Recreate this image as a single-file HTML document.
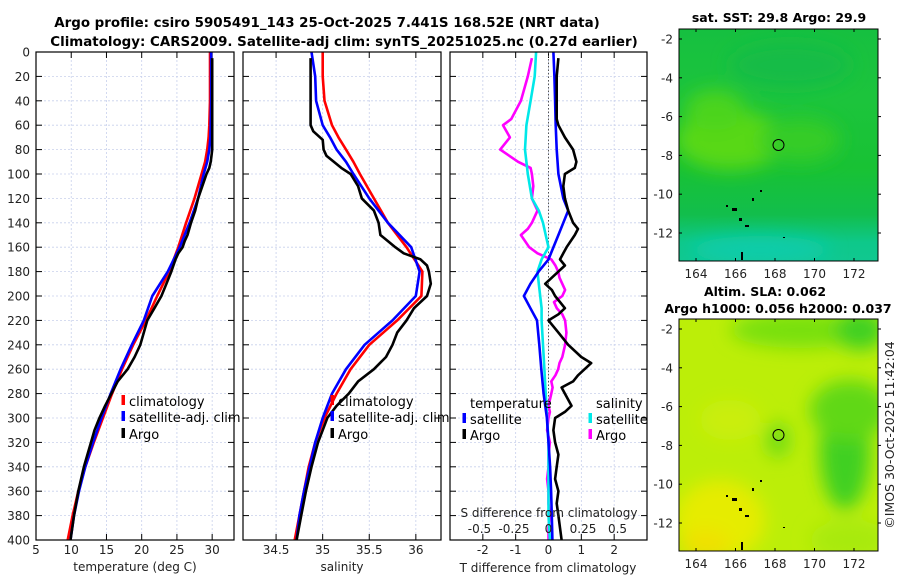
<!DOCTYPE html>
<html><head><meta charset="utf-8">
<style>
html,body{margin:0;padding:0;background:#fff;}
svg{display:block;font-family:"DejaVu Sans","Liberation Sans",sans-serif;}
.tk{font-size:12px;fill:#222;}
.ttl{font-size:12.5px;font-weight:bold;fill:#000;}
.mttl{font-size:13.4px;font-weight:bold;fill:#000;}
.lg{font-size:13px;fill:#000;}
</style></head>
<body>
<svg id="fig" width="900" height="580" viewBox="0 0 900 580" xmlns="http://www.w3.org/2000/svg">
<defs>
<filter id="blur8" x="-50%" y="-50%" width="200%" height="200%"><feGaussianBlur stdDeviation="9"/></filter>
<linearGradient id="sstg" x1="0" y1="0" x2="0" y2="1">
<stop offset="0" stop-color="#16c040"/><stop offset="0.3" stop-color="#1cc43c"/><stop offset="0.6" stop-color="#18c234"/><stop offset="0.8" stop-color="#12be4c"/><stop offset="0.92" stop-color="#0ec88a"/><stop offset="1" stop-color="#10c890"/>
</linearGradient>
<clipPath id="cm1"><rect x="679" y="29" width="199" height="232"/></clipPath>
<clipPath id="cm2"><rect x="679" y="319" width="199" height="232"/></clipPath>
</defs>
<text class="mttl" x="327" y="27" text-anchor="middle">Argo profile: csiro 5905491_143 25-Oct-2025 7.441S 168.52E (NRT data)</text>
<text class="mttl" x="344" y="46" text-anchor="middle">Climatology: CARS2009. Satellite-adj clim: synTS_20251025.nc (0.27d earlier)</text>
<g id="plots"></g>

<!-- SST map -->
<g>
<text class="ttl" x="779" y="22" text-anchor="middle">sat. SST: 29.8 Argo: 29.9</text>
<g clip-path="url(#cm1)">
<rect x="679" y="29" width="199" height="232" fill="url(#sstg)"/>
<g filter="url(#blur8)">
<ellipse cx="730" cy="140" rx="55" ry="30" fill="#58d818"/>
<ellipse cx="715" cy="110" rx="30" ry="20" fill="#4cd41c"/>
<ellipse cx="800" cy="140" rx="40" ry="22" fill="#34cc26"/>
<ellipse cx="790" cy="65" rx="60" ry="22" fill="#14bc46"/>
<ellipse cx="760" cy="250" rx="70" ry="14" fill="#0cccaa"/>
</g>
</g>
<rect x="679" y="29" width="199" height="232" fill="none" stroke="#000" stroke-width="1"/>
<circle cx="778.5" cy="145" r="5.5" fill="none" stroke="#000" stroke-width="1"/>
<g fill="#000"><rect x="726" y="205" width="2" height="2"/><rect x="732" y="208" width="5" height="3"/><rect x="739" y="218" width="3" height="3"/><rect x="745" y="225" width="4" height="2"/><rect x="752" y="198" width="2" height="3"/><rect x="760" y="190" width="2" height="2"/><rect x="783" y="237" width="2" height="1"/><rect x="741" y="252" width="2" height="8"/></g>
<g id="map1ticks"></g>
</g>

<!-- SLA map -->
<g>
<text class="ttl" x="765" y="296" text-anchor="middle">Altim. SLA: 0.062</text>
<text class="ttl" x="778" y="313" text-anchor="middle">Argo h1000: 0.056 h2000: 0.037</text>
<g clip-path="url(#cm2)">
<rect x="679" y="319" width="199" height="232" fill="#bcee08"/>
<g filter="url(#blur8)">
<ellipse cx="800" cy="330" rx="70" ry="18" fill="#78e010"/>
<ellipse cx="860" cy="330" rx="25" ry="20" fill="#40d020"/>
<ellipse cx="845" cy="450" rx="25" ry="60" fill="#40d020"/>
<ellipse cx="850" cy="410" rx="40" ry="30" fill="#60d818"/>
<ellipse cx="778" cy="440" rx="12" ry="18" fill="#70dc14"/>
<ellipse cx="730" cy="420" rx="30" ry="20" fill="#caee10"/>
<ellipse cx="720" cy="520" rx="45" ry="40" fill="#e6ec00"/>
<ellipse cx="705" cy="545" rx="25" ry="15" fill="#f0e000"/>
<ellipse cx="850" cy="540" rx="40" ry="20" fill="#a8ea08"/>
</g>
</g>
<rect x="679" y="319" width="199" height="232" fill="none" stroke="#000" stroke-width="1"/>
<circle cx="778.5" cy="435" r="5.5" fill="none" stroke="#000" stroke-width="1"/>
<g fill="#000"><rect x="726" y="495" width="2" height="2"/><rect x="732" y="498" width="5" height="3"/><rect x="739" y="508" width="3" height="3"/><rect x="745" y="515" width="4" height="2"/><rect x="752" y="488" width="2" height="3"/><rect x="760" y="480" width="2" height="2"/><rect x="783" y="527" width="2" height="1"/><rect x="741" y="542" width="2" height="8"/></g>
<g id="map2ticks"></g>
</g>
<text class="tk" transform="translate(894,435) rotate(-90)" text-anchor="middle" style="font-size:12.5px">©IMOS 30-Oct-2025 11:42:04</text>
</svg>

<script>
// ---------- data ----------
const yTicks = [0,20,40,60,80,100,120,140,160,180,200,220,240,260,280,300,320,340,360,380,400];
const tTicks = [5,10,15,20,25,30];
const sTicks = [34.5,35,35.5,36];
const dTicks = [-2,-1,0,1,2];
const dsTicks = [-0.5,-0.25,0,0.25,0.5];
const dsTickLabels = ["-0.5","-0.25","0","0.25","0.5"];

const climDepth = [0,20,40,60,70,80,90,100,120,140,160,180,200,220,240,260,280,300,320,340,360,380,400];
const climT = [29.7,29.7,29.7,29.6,29.5,29.3,29.0,28.5,27.5,26.3,25.2,23.9,22.2,20.6,18.8,17.2,15.8,14.5,13.2,12.0,11.0,10.2,9.5];
const satT  = [29.85,29.85,29.85,29.8,29.75,29.6,29.3,28.8,28.0,26.8,25.4,23.7,21.5,20.3,18.6,17.0,15.6,14.3,13.1,12.0,11.1,10.4,9.9];
const climS = [35.0,35.0,35.02,35.1,35.17,35.25,35.33,35.4,35.55,35.7,35.9,36.07,36.06,35.8,35.5,35.3,35.15,35.02,34.92,34.85,34.8,34.75,34.7];
const satS  = [34.88,34.92,34.93,35.0,35.08,35.15,35.25,35.33,35.5,35.7,35.95,36.04,36.0,35.75,35.45,35.25,35.1,35.0,34.92,34.86,34.8,34.75,34.72];

const argoDepth = [5,20,40,60,65,72,80,85,90,95,100,110,120,130,140,150,155,160,165,170,175,180,190,200,210,220,230,240,250,260,270,280,290,300,310,320,340,360,380,400];
const argoT = [30.0,30.0,30.0,30.0,30.0,30.0,30.0,29.9,29.8,29.6,29.2,28.6,28.0,27.6,27.0,26.5,26.1,25.8,25.2,24.8,24.5,24.2,23.5,22.8,21.8,20.8,20.3,19.8,19.0,18.0,16.6,15.7,14.8,14.0,13.3,12.8,11.8,11.0,10.4,9.9];
const argoS = [34.87,34.87,34.87,34.87,34.9,35.0,35.01,35.04,35.12,35.2,35.3,35.38,35.42,35.55,35.6,35.62,35.7,35.78,35.87,36.05,36.12,36.14,36.16,36.12,35.98,35.9,35.8,35.75,35.68,35.55,35.38,35.28,35.15,35.05,35.0,34.95,34.88,34.82,34.77,34.72];

const dDepth = [0,20,40,60,80,100,120,130,140,150,160,170,180,190,200,210,220,240,260,280,300,320,340,360,380,400];
const satTdiff = [0.15,0.18,0.2,0.22,0.25,0.3,0.45,0.6,0.45,0.3,0.15,0.0,-0.3,-0.55,-0.75,-0.55,-0.35,-0.28,-0.22,-0.15,-0.05,0.0,0.05,0.08,0.1,0.12];
const satSdiff = [-0.09,-0.1,-0.13,-0.16,-0.17,-0.15,-0.12,-0.07,-0.04,-0.02,0.0,-0.05,-0.08,-0.07,-0.06,-0.05,-0.05,-0.04,-0.03,-0.02,-0.01,0.0,0.0,0.0,0.0,0.01];

const aDepth = [5,20,40,55,60,70,80,90,95,100,110,120,130,140,145,150,160,165,170,175,180,185,190,195,200,205,210,215,220,230,240,250,255,260,265,270,275,280,290,295,300,310,320,330,340,350,360,370,380,390,400];
const argoTdiff = [0.3,0.25,0.25,0.25,0.3,0.5,0.75,0.85,0.8,0.5,0.45,0.5,0.6,0.75,0.9,0.8,0.55,0.45,0.35,0.5,0.3,0.1,-0.1,0.1,0.2,0.35,0.5,0.3,0.0,0.3,0.6,1.0,1.3,1.1,0.9,0.75,0.4,0.5,0.7,0.5,0.2,0.15,0.2,0.3,0.25,0.2,0.3,0.25,0.3,0.35,0.4];
const argoSdiff = [-0.12,-0.15,-0.2,-0.27,-0.33,-0.28,-0.35,-0.22,-0.13,-0.12,-0.11,-0.12,-0.08,-0.12,-0.15,-0.2,-0.14,-0.08,0.02,0.05,0.07,0.08,0.1,0.12,0.1,0.04,0.06,0.1,0.12,0.13,0.12,0.1,0.08,0.07,0.05,0.02,0.03,0.02,0.0,0.01,0.0,-0.01,0.01,0.0,0.0,-0.01,0.0,0.0,0.01,0.0,0.0];

const mapLonTicks = [164,166,168,170,172];
const mapLatTicks = [-2,-4,-6,-8,-10,-12];

// ---------- helpers ----------
const NS = "http://www.w3.org/2000/svg";
const root = document.getElementById('plots');
function mk(tag, attrs, parent){ const e=document.createElementNS(NS,tag); for(const k in attrs) e.setAttribute(k,attrs[k]); (parent||root).appendChild(e); return e; }
const Y0=52, Y1=540;
const yScale = d => Y0 + d*(Y1-Y0)/400;

const panels = [
  {name:'temperature', x0:36, x1:234, v0:5, v1:33.1},
  {name:'salinity', x0:243, x1:441, v0:34.145, v1:36.27},
  {name:'difference', x0:450, x1:647, v0:-3, v1:3}
];
function xs(p){ return v => p.x0 + (v-p.v0)*(p.x1-p.x0)/(p.v1-p.v0); }
const xT = xs(panels[0]), xS = xs(panels[1]), xD = xs(panels[2]);
const xDS = v => xD(0) + v*138;

function grid(p, xticks, xf){
  const g = mk('g',{});
  
  
  yTicks.forEach(t=>{ mk('line',{x1:p.x0,x2:p.x1,y1:yScale(t),y2:yScale(t),stroke:'#c8d0ec','stroke-width':0.8,'stroke-dasharray':'2,2'},g);
    mk('line',{x1:p.x0,x2:p.x0+6,y1:yScale(t),y2:yScale(t),stroke:'#000'},g);
    mk('line',{x1:p.x1-6,x2:p.x1,y1:yScale(t),y2:yScale(t),stroke:'#000'},g); });
  xticks.forEach(t=>{ const x=xf(t); mk('line',{x1:x,x2:x,y1:Y0,y2:Y1,stroke:'#c8d0ec','stroke-width':0.8,'stroke-dasharray':'2,2'},g);
    mk('line',{x1:x,x2:x,y1:Y0,y2:Y0+6,stroke:'#000'},g); mk('line',{x1:x,x2:x,y1:Y1-6,y2:Y1,stroke:'#000'},g); });
}
function frame(p){
  const r = mk('rect',{x:p.x0,y:Y0,width:p.x1-p.x0,height:Y1-Y0,fill:'none',stroke:'#000','stroke-width':1.2});
  
  
}
function line(vals, depths, xf, color, name, w){
  const pts = vals.map((v,i)=> xf(v).toFixed(1)+','+yScale(depths[i]).toFixed(1)).join(' ');
  const pl = mk('polyline',{points:pts,fill:'none',stroke:color,'stroke-width':w||2.6,'stroke-linejoin':'round'});
  
  
}
function text(x,y,s,cls,anchor,name){
  const t = mk('text',{x:x,y:y,class:cls,'text-anchor':anchor||'start'}); t.textContent=s;
  
  
  return t;
}
function legendItem(x,y,color,label,name){
  const r = mk('rect',{x:x-1.5,y:y-11,width:3.5,height:10,fill:color});
  
  
  text(x+6,y,label,'lg','start',name);
}

// ---------- panel 1 ----------
grid(panels[0], tTicks, xT);
line(climT, climDepth, xT, '#ff0000', 'temp-climatology-line');
line(satT, climDepth, xT, '#0000ff', 'temp-satellite-line');
line(argoT, argoDepth, xT, '#000000', 'temp-argo-line');
frame(panels[0]);
yTicks.forEach(t=> text(30, yScale(t)+4.5, String(t), 'tk','end','y-tick-label'));
tTicks.forEach(t=> text(xT(t), 554, String(t), 'tk','middle','temp-x-tick-label'));
text(135, 571, 'temperature (deg C)', 'tk', 'middle', 'temp-x-axis-title');
legendItem(123,406,'#ff0000','climatology','legend-climatology');
legendItem(123,422,'#0000ff','satellite-adj. clim','legend-satellite-adj');
legendItem(123,439,'#000000','Argo','legend-argo');

// ---------- panel 2 ----------
grid(panels[1], sTicks, xS);
line(climS, climDepth, xS, '#ff0000', 'sal-climatology-line');
line(satS, climDepth, xS, '#0000ff', 'sal-satellite-line');
line(argoS, argoDepth, xS, '#000000', 'sal-argo-line');
frame(panels[1]);
sTicks.forEach(t=> text(xS(t), 554, String(t), 'tk','middle','sal-x-tick-label'));
text(342, 571, 'salinity', 'tk', 'middle', 'sal-x-axis-title');
legendItem(332,406,'#ff0000','climatology','legend-sal-climatology');
legendItem(332,422,'#0000ff','satellite-adj. clim','legend-sal-satellite-adj');
legendItem(332,439,'#000000','Argo','legend-sal-argo');

// ---------- panel 3 ----------
grid(panels[2], dTicks, xD);
const zl = mk('line',{x1:xD(0),x2:xD(0),y1:Y0,y2:Y1,stroke:'#555','stroke-width':1,'stroke-dasharray':'1.5,2'});


line(argoSdiff, aDepth, xDS, '#ff00ff', 'sal-argo-diff-line');
line(satSdiff, dDepth, xDS, '#00e8e8', 'sal-satellite-diff-line');
line(satTdiff, dDepth, xD, '#0000ff', 'temp-satellite-diff-line');
line(argoTdiff, aDepth, xD, '#000000', 'temp-argo-diff-line');
frame(panels[2]);
dTicks.forEach(t=> text(xD(t), 554, String(t), 'tk','middle','tdiff-x-tick-label'));
text(548, 572, 'T difference from climatology', 'tk', 'middle', 'tdiff-x-axis-title');
text(549, 517, 'S difference from climatology', 'tk', 'middle', 'sdiff-axis-title');
dsTicks.forEach((t,i)=> text(xDS(t), 533, dsTickLabels[i], 'tk','middle','sdiff-tick-label'));
text(470, 408, 'temperature', 'lg', 'start', 'legend-temperature-header');
text(596, 408, 'salinity', 'lg', 'start', 'legend-salinity-header');
legendItem(464,424,'#0000ff','satellite','legend-tdiff-satellite');
legendItem(464,440,'#000000','Argo','legend-tdiff-argo');
legendItem(590,424,'#00e8e8','satellite','legend-sdiff-satellite');
legendItem(590,440,'#ff00ff','Argo','legend-sdiff-argo');

// ---------- map ticks ----------
function mapTicks(gid, top, y2){
  const g = document.getElementById(gid);
  const lonX = lon => 696 + (lon-164)*19.75;
  const latY = lat => top + 10 + (-2-lat)*19.4;
  mapLonTicks.forEach(l=>{ const x=lonX(l);
    mk('line',{x1:x,x2:x,y1:y2,y2:y2-3,stroke:'#000'},g);
    mk('line',{x1:x,x2:x,y1:top,y2:top+3,stroke:'#000'},g);
    const t=mk('text',{x:x,y:y2+17,class:'tk','text-anchor':'middle'},g); t.textContent=String(l);
    
     });
  mapLatTicks.forEach(l=>{ const y=latY(l);
    mk('line',{x1:679,x2:682,y1:y,y2:y,stroke:'#000'},g);
    mk('line',{x1:878,x2:881,y1:y,y2:y,stroke:'#000'},g);
    const t=mk('text',{x:673,y:y+4.5,class:'tk','text-anchor':'end'},g); t.textContent=String(l);
    
     });
}
mapTicks('map1ticks', 29, 261);
mapTicks('map2ticks', 319, 551);
</script>
</body></html>
